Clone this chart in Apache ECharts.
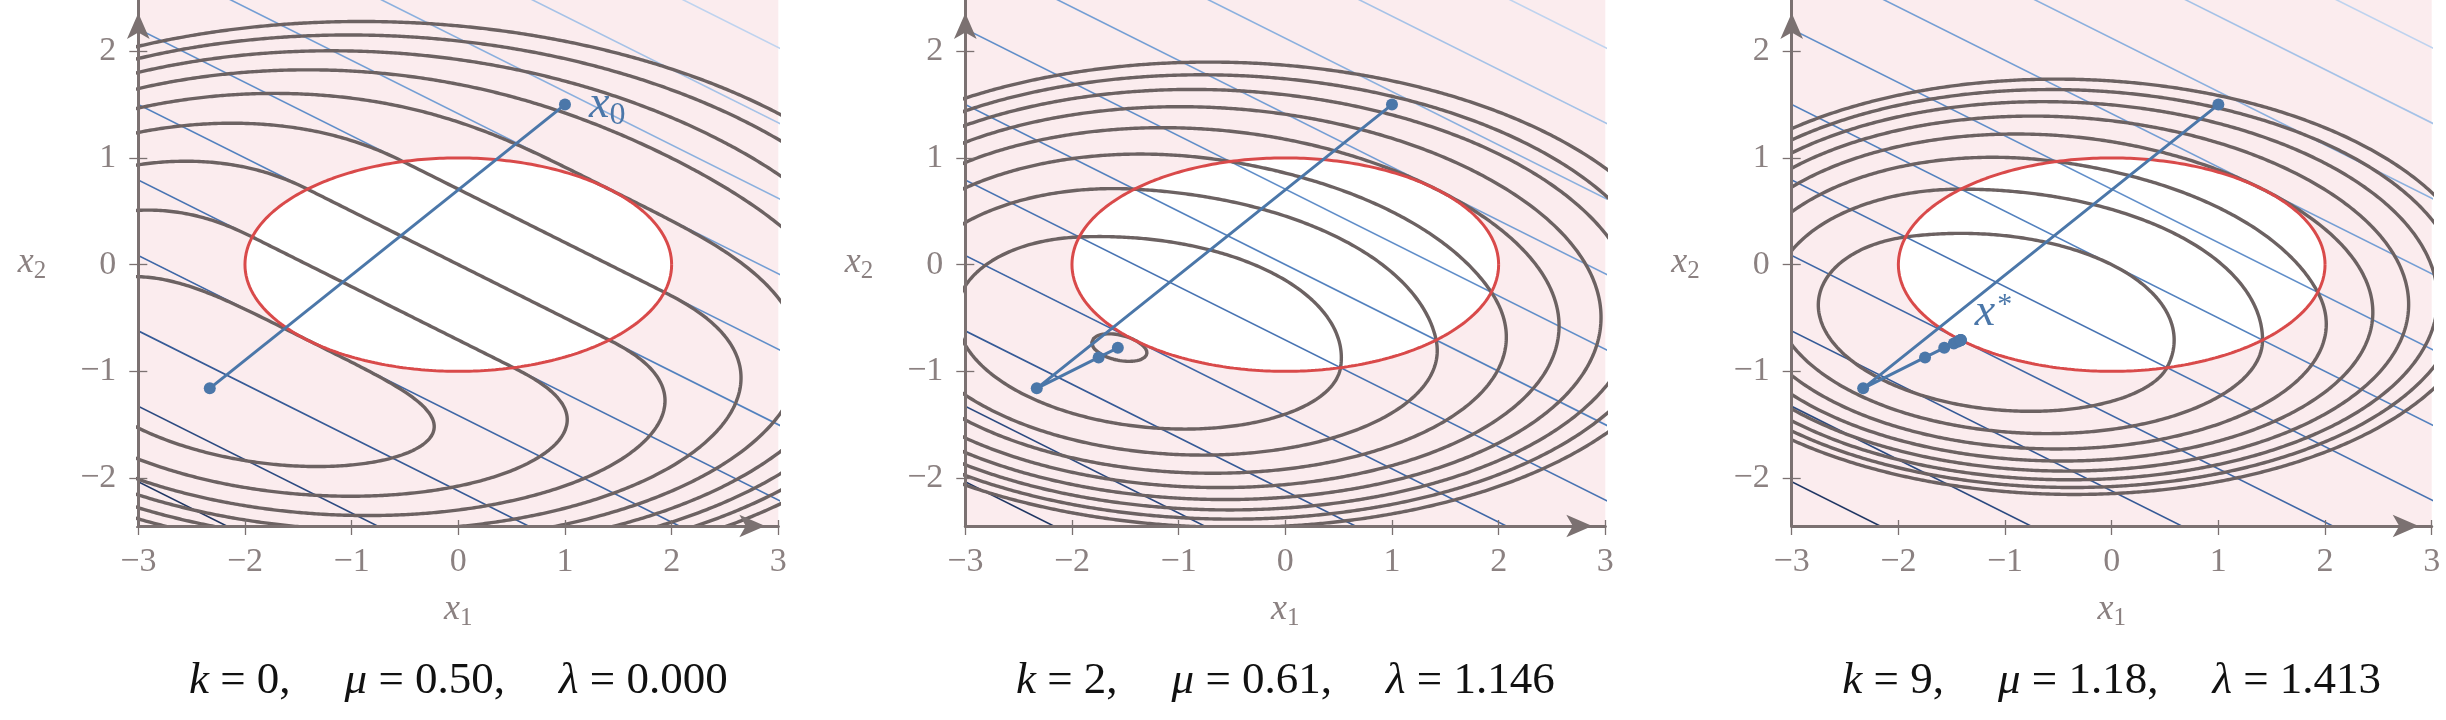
<!DOCTYPE html>
<html><head><meta charset="utf-8">
<script src="https://cdn.jsdelivr.net/npm/echarts@6/dist/echarts.min.js"></script>
<style>html,body{margin:0;padding:0;background:#fff}#c{width:2446px;height:720px}</style>
</head><body><div id="c"></div>
<script>
// ---------------- data ----------------
const ITERATIONS = [0, 2, 9];                 // k shown under each panel
const MU = [0.50, 0.61, 1.18];                // penalty parameter
const LAMBDA = [0.000, 1.146, 1.413];         // multiplier estimate
const OBJECTIVE = [1, 2];                     // f(x) = x1 + 2 x2  (blue level lines)
const ELLIPSE_SEMI_AXES = [2, 1];             // constraint x1^2/4 + x2^2 <= 1 (red)
const CONTOUR_LEVELS = [-2.828, -1.414, 0, 1.414, 2.828, 4.243, 5.657, 7.071, 8.485];
const OBJECTIVE_LEVELS = [-7.071, -5.657, -4.243, -2.828, -1.414, 0, 1.414, 2.828, 4.243, 5.657, 7.071];
const OBJECTIVE_COLORS = ['#1f3663', '#2b4a80', '#355a96', '#3e67a6', '#4773b2', '#5281be', '#608ec9',
                          '#749ed4', '#8bb0de', '#a5c2e7', '#bed3ef'];
const PATH_X1 = [1.00, -2.33, -1.75, -1.57, -1.48, -1.445, -1.428, -1.420, -1.417, -1.415, -1.414];
const PATH_X2 = [1.50, -1.16, -0.87, -0.78, -0.74, -0.722, -0.714, -0.710, -0.708, -0.707, -0.707];
const X_TICKS = [-3, -2, -1, 0, 1, 2, 3];
const Y_TICKS = [-2, -1, 0, 1, 2];
const X_RANGE = [-3, 3];
const Y_RANGE = [-2.45, 2.48];

// ---------------- layout / style ----------------
const GRID_LEFT = [138.3, 965.3, 1791.7];
const GRID_W = 640, GRID_TOP = 0, GRID_H = 526;
const AXIS_COLOR = '#7b7171';
const LABEL_COLOR = '#8b8181';
const CONTOUR_COLOR = '#6c6262';
const RED = '#d94a4a';
const PATH_COLOR = '#4b77a9';
const PINK = '#fbecee';
const SERIF = '"Liberation Serif", "DejaVu Serif", serif';

// ---------------- helpers ----------------
const A = ELLIPSE_SEMI_AXES[0], B = ELLIPSE_SEMI_AXES[1];
// augmented Lagrangian: f + lambda*h + mu/2 * max(0,h)^2
function lagrangian(p) {
  const lam = LAMBDA[p], mu = MU[p];
  return (x1, x2) => {
    const h = x1 * x1 / (A * A) + x2 * x2 / (B * B) - 1;
    const hp = Math.max(0, h);
    return OBJECTIVE[0] * x1 + OBJECTIVE[1] * x2 + lam * h + 0.5 * mu * hp * hp;
  };
}
const ELLIPSE_PTS = [];
for (let i = 0; i <= 360; i++) {
  const t = i / 360 * 2 * Math.PI;
  ELLIPSE_PTS.push([A * Math.cos(t), B * Math.sin(t)]);
}

function contourPolylines(fn, level, x0, x1, y0, y1, nx, ny) {
  const dx = (x1 - x0) / (nx - 1), dy = (y1 - y0) / (ny - 1);
  const V = new Float64Array(nx * ny);
  for (let j = 0; j < ny; j++) for (let i = 0; i < nx; i++) V[j * nx + i] = fn(x0 + i * dx, y0 + j * dy) - level;
  const N = nx * ny;
  const pt = (id) => {
    if (id < N) {
      const j = Math.floor(id / nx), i = id % nx; const a = V[id], b = V[id + 1]; const t = a / (a - b);
      return [x0 + (i + t) * dx, y0 + j * dy];
    } else {
      const k = id - N; const j = Math.floor(k / nx), i = k % nx; const a = V[k], b = V[k + nx]; const t = a / (a - b);
      return [x0 + i * dx, y0 + (j + t) * dy];
    }
  };
  const segs = [];
  for (let j = 0; j < ny - 1; j++) for (let i = 0; i < nx - 1; i++) {
    const ia = j * nx + i, ib = ia + 1, ic = ia + nx + 1, idd = ia + nx;
    const a = V[ia] >= 0, b = V[ib] >= 0, c = V[ic] >= 0, d = V[idd] >= 0;
    const eB = ia, eR = N + ib, eT = idd, eL = N + ia;
    const cr = [];
    if (a !== b) cr.push(eB); if (b !== c) cr.push(eR); if (c !== d) cr.push(eT); if (d !== a) cr.push(eL);
    if (cr.length === 2) segs.push(cr);
    else if (cr.length === 4) {
      const center = (V[ia] + V[ib] + V[ic] + V[idd]) / 4 >= 0;
      if (center === a) { segs.push([eB, eR]); segs.push([eT, eL]); }
      else { segs.push([eL, eB]); segs.push([eR, eT]); }
    }
  }
  const adj = new Map();
  segs.forEach((s, k) => {
    for (const e of s) { if (!adj.has(e)) adj.set(e, []); adj.get(e).push(k); }
  });
  const used = new Uint8Array(segs.length);
  const walk = (start) => {
    const ids = [start]; let cur = start;
    while (true) {
      const list = adj.get(cur); let nxt = -1;
      for (const k of list) if (!used[k]) { nxt = k; break; }
      if (nxt < 0) break;
      used[nxt] = 1;
      const s = segs[nxt]; cur = s[0] === cur ? s[1] : s[0];
      ids.push(cur);
    }
    return ids.map(pt);
  };
  const lines = [];
  for (const [id, list] of adj) if (list.length === 1 && !used[list[0]]) lines.push(walk(id));
  for (let k = 0; k < segs.length; k++) if (!used[k]) lines.push(walk(segs[k][0]));
  return lines.filter(l => l.length > 1);
}

const fmt = v => (v < 0 ? '\u2212' + Math.abs(v) : String(v));

// ---------------- option ----------------
const grid = [], xAxis = [], yAxis = [], series = [], graphic = [];
const subRich = (size, subSize, color, pad) => ({
  i: { fontFamily: SERIF, fontStyle: 'italic', fontSize: size, lineHeight: size, color: color, verticalAlign: 'top' },
  s: { fontFamily: SERIF, fontSize: subSize, lineHeight: subSize, color: color, padding: [pad, 0, 0, 0], verticalAlign: 'top' },
  p: { fontFamily: SERIF, fontSize: subSize, lineHeight: subSize, color: color, padding: [0, 0, 0, 2], verticalAlign: 'top' }
});

ITERATIONS.forEach((k, p) => {
  grid.push({ left: GRID_LEFT[p], top: GRID_TOP, width: GRID_W, height: GRID_H, show: true,
    backgroundColor: PINK, borderWidth: 0, containLabel: false });
  xAxis.push({
    type: 'value', gridIndex: p, min: X_RANGE[0], max: X_RANGE[1], position: 'bottom', z: 10,
    axisLine: { show: true, onZero: false, lineStyle: { color: AXIS_COLOR, width: 3 },
      symbol: ['none', 'arrow'], symbolSize: [17, 26], symbolOffset: [0, -13] },
    axisTick: { show: true, inside: false, length: 9, customValues: X_TICKS, lineStyle: { color: AXIS_COLOR, width: 1.3 } },
    axisLabel: { customValues: X_TICKS, formatter: fmt, color: LABEL_COLOR, fontSize: 34, fontFamily: SERIF, margin: 19 },
    splitLine: { show: false },
    name: '{i|x}{s|1}', nameLocation: 'middle', nameGap: 66,
    nameTextStyle: { rich: subRich(36, 25, LABEL_COLOR, 14) }
  });
  xAxis.push({
    type: 'value', gridIndex: p, min: X_RANGE[0], max: X_RANGE[1], position: 'bottom', z: 10,
    axisLine: { show: false, onZero: false },
    axisTick: { show: true, inside: true, length: 6, customValues: X_TICKS, lineStyle: { color: AXIS_COLOR, width: 1.3 } },
    axisLabel: { show: false }, splitLine: { show: false }
  });
  yAxis.push({
    type: 'value', gridIndex: p, min: Y_RANGE[0], max: Y_RANGE[1], position: 'left', z: 10,
    axisLine: { show: true, onZero: false, lineStyle: { color: AXIS_COLOR, width: 3 },
      symbol: ['none', 'arrow'], symbolSize: [17, 26], symbolOffset: [0, -13] },
    axisTick: { show: true, inside: false, length: 9, customValues: Y_TICKS, lineStyle: { color: AXIS_COLOR, width: 1.3 } },
    axisLabel: { customValues: Y_TICKS, formatter: fmt, color: LABEL_COLOR, fontSize: 34, fontFamily: SERIF, margin: 22 },
    splitLine: { show: false },
    name: '{i|x}{s|2}', nameLocation: 'middle', nameRotate: 0, nameGap: 92,
    nameTextStyle: { rich: subRich(36, 25, LABEL_COLOR, 14) }
  });
  yAxis.push({
    type: 'value', gridIndex: p, min: Y_RANGE[0], max: Y_RANGE[1], position: 'left', z: 10,
    axisLine: { show: false, onZero: false },
    axisTick: { show: true, inside: true, length: 9, customValues: Y_TICKS, lineStyle: { color: AXIS_COLOR, width: 1.3 } },
    axisLabel: { show: false }, splitLine: { show: false }
  });
  const xi = 2 * p, yi = 2 * p;

  // feasible region (white inside the ellipse)
  series.push({
    type: 'custom', xAxisIndex: xi, yAxisIndex: yi, z: 1, silent: true, data: [[0, 0]], clip: true,
    renderItem: (params, api) => ({
      type: 'polygon', shape: { points: ELLIPSE_PTS.map(q => api.coord(q)) }, style: { fill: '#ffffff' }
    })
  });

  // objective level lines
  OBJECTIVE_LEVELS.forEach((c, i) => {
    const xs = [X_RANGE[0] - 1, X_RANGE[1] + 1];
    series.push({
      type: 'line', xAxisIndex: xi, yAxisIndex: yi, z: 2, silent: true, showSymbol: false, clip: true,
      data: xs.map(x => [x, (c - OBJECTIVE[0] * x) / OBJECTIVE[1]]),
      lineStyle: { color: OBJECTIVE_COLORS[i], width: 1.6 }
    });
  });

  // augmented Lagrangian contours
  const fn = lagrangian(p);
  CONTOUR_LEVELS.forEach(lv => {
    const polys = contourPolylines(fn, lv, X_RANGE[0] - 0.05, X_RANGE[1] + 0.05, Y_RANGE[0] - 0.05, Y_RANGE[1] + 0.05, 306, 254);
    polys.forEach(poly => {
      series.push({
        type: 'line', xAxisIndex: xi, yAxisIndex: yi, z: 3, silent: true, showSymbol: false, clip: true,
        data: poly, lineStyle: { color: CONTOUR_COLOR, width: 3.4, cap: 'round', join: 'round' }
      });
    });
  });

  // constraint boundary
  series.push({
    type: 'line', xAxisIndex: xi, yAxisIndex: yi, z: 4, silent: true, showSymbol: false, clip: true,
    data: ELLIPSE_PTS, lineStyle: { color: RED, width: 3 }
  });

  // iterate path
  const n = k + 2;
  const pathData = [];
  for (let i = 0; i < n; i++) {
    const item = { value: [PATH_X1[i], PATH_X2[i]] };
    if (p === 0 && i === 0) {
      item.label = { show: true, position: 'right', distance: 18, formatter: '{i|x}{s|0}',
        rich: subRich(46, 32, PATH_COLOR, 18) };
    }
    if (p === 2 && i === n - 1) {
      item.label = { show: true, position: [20, -44], formatter: '{i|x}{p|*}',
        rich: subRich(46, 30, PATH_COLOR, 0) };
    }
    pathData.push(item);
  }
  series.push({
    type: 'line', xAxisIndex: xi, yAxisIndex: yi, z: 5, silent: true, clip: false,
    showSymbol: true, showAllSymbol: true, symbol: 'circle', symbolSize: 12,
    data: pathData, itemStyle: { color: PATH_COLOR }, lineStyle: { color: PATH_COLOR, width: 3 }
  });

  // caption under the panel
  graphic.push({
    type: 'text', x: GRID_LEFT[p] + GRID_W / 2, y: 681, z: 20,
    style: {
      text: `{i|k} = ${k},{g| }{i|\u03bc} = ${MU[p].toFixed(2)},{g| }{i|\u03bb} = ${LAMBDA[p].toFixed(3)}`,
      fontFamily: SERIF, fontSize: 45, fill: '#111111',
      align: 'center', textAlign: 'center', verticalAlign: 'middle', textVerticalAlign: 'middle',
      rich: {
        i: { fontFamily: SERIF, fontStyle: 'italic', fontSize: 45, fill: '#111111', color: '#111111' },
        g: { width: 54, fontSize: 45 }
      }
    }
  });
});

const chart = echarts.init(document.getElementById('c'), null, { renderer: 'canvas' });
chart.setOption({ animation: false, backgroundColor: '#ffffff', grid, xAxis, yAxis, series, graphic });
</script>
</body></html>
